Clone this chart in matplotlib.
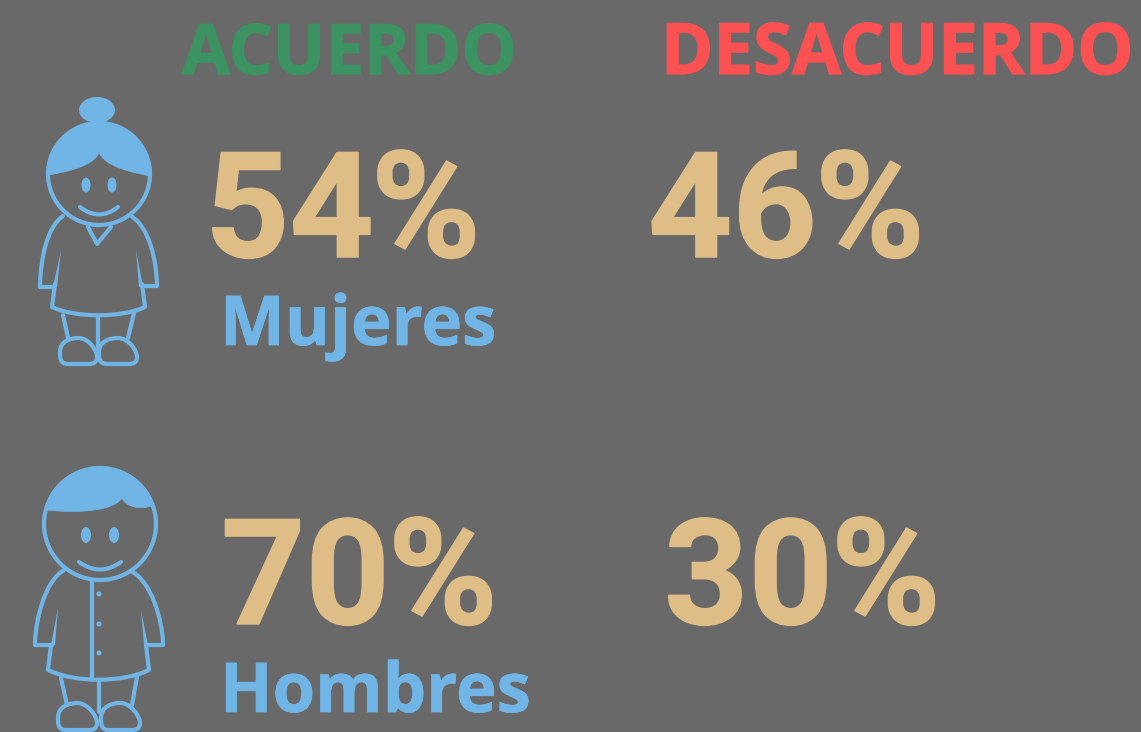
import matplotlib
matplotlib.use("Agg")
import matplotlib.pyplot as plt
from matplotlib.patches import Circle, Ellipse, Polygon, PathPatch
from matplotlib.path import Path
import matplotlib.patheffects as pe

# data
groups = ['Mujeres', 'Hombres']
acuerdo = [54, 70]
desacuerdo = [46, 30]
headers = ['ACUERDO', 'DESACUERDO']

BG = '#696969'
BLUE = '#70b5e5'
TAN = '#dfbd87'
GREEN = '#3c9260'
RED = '#fb5152'
FONT = ['Roboto', 'DejaVu Sans']
FONT2 = ['Open Sans', 'DejaVu Sans']

fig = plt.figure(figsize=(11.41, 7.32), dpi=100, facecolor=BG)
ax = fig.add_axes([0, 0, 1, 1])
ax.set_xlim(0, 1141)
ax.set_ylim(732, 0)
ax.axis('off')


def txt(x, y, s, size, color, stroke=0, weight='bold', family=FONT):
    t = ax.text(x, y, s, fontsize=size, color=color, fontweight=weight,
                ha='left', va='baseline', family=family)
    if stroke:
        t.set_path_effects([pe.withStroke(linewidth=stroke, foreground=color)])


def pct(x, x2, y, value):
    txt(x, y, str(value), 106, TAN, stroke=1)
    txt(x2, y, '%', 107, TAN, stroke=1)


txt(182, 74, headers[0], 50, GREEN, stroke=1, family=FONT2)
txt(661, 74, headers[1], 51, RED, stroke=1, family=FONT2)

pct(205, 371, 257, acuerdo[0])
pct(648, 815, 257, desacuerdo[0])
pct(221, 388, 624, acuerdo[1])
pct(664, 831, 624, desacuerdo[1])

txt(220, 345, groups[0], 49.5, BLUE, stroke=0.5, family=FONT2)
txt(220, 712, groups[1], 49.5, BLUE, stroke=0.5, family=FONT2)

lw = 3
M, L, C3, C4 = Path.MOVETO, Path.LINETO, Path.CURVE3, Path.CURVE4


def stroke(verts, codes):
    ax.add_patch(PathPatch(Path(verts, codes), fc='none', ec=BLUE, lw=lw,
                           capstyle='round', joinstyle='round'))


def fill(verts, codes):
    ax.add_patch(PathPatch(Path(verts, codes), fc=BLUE, ec=BLUE, lw=0.5))


def taper(tip, base):
    ax.add_patch(Polygon([tip, (base[0] - 2, base[1]), (base[0] + 2, base[1])],
                         closed=True, fc=BLUE, ec='none'))


def shoe(x0, x1, y0, y1):
    xm = (x0 + x1) / 2
    stroke([(x0 + 8, y1), (x0, y1), (x0, y1 - 6), (x0, y1 - 12),
            (x0, y0 + 3), (xm - 8, y0), (xm, y0),
            (xm + 10, y0), (x1, y1 - 14), (x1, y1 - 7),
            (x1, y1 - 2), (x1 - 3, y1), (x1 - 8, y1),
            (x0 + 8, y1)],
           [M, C4, C4, C4, C4, C4, C4, C4, C4, C4, C4, C4, C4, L])


def face(cx, cy, r, eye_dx, eye_dy, eye_w, eye_h, sm_dx, sm_y, sm_low):
    ax.add_patch(Circle((cx, cy), r, fc='none', ec=BLUE, lw=lw))
    ax.add_patch(Ellipse((cx - eye_dx, cy + eye_dy), eye_w, eye_h, fc=BLUE, ec='none'))
    ax.add_patch(Ellipse((cx + eye_dx, cy + eye_dy), eye_w, eye_h, fc=BLUE, ec='none'))
    stroke([(cx - sm_dx, sm_y), (cx, sm_low), (cx + sm_dx, sm_y)], [M, C3, C3])


# woman
face(99, 174, 51, 13, 11, 9, 15, 19, 207, 222)
fill([(48, 175), (80, 170), (96, 162), (99, 152), (102, 162), (118, 170), (150, 176),
      (150, 146), (125, 122), (99, 122), (73, 122), (48, 146), (48, 175)],
     [M, C4, C4, C4, C4, C4, C4, C4, C4, C4, C4, C4, C4])
ax.add_patch(Ellipse((97, 110), 36, 26, fc=BLUE, ec='none'))
# arms and dress
stroke([(63, 216), (46, 228), (41, 260), (40, 284), (40, 287), (53, 287)], [M, C4, C4, C4, L, L])
stroke([(131, 216), (150, 228), (156, 260), (157, 284), (157, 286), (142, 286)], [M, C4, C4, C4, L, L])
stroke([(55, 284), (52, 307), (75, 318), (122, 318), (145, 307), (142, 284)], [M, L, C4, C4, C4, L])
taper((61, 250), (55, 287))
taper((136, 250), (141, 287))
stroke([(88, 227), (97, 244), (111, 227)], [M, L, L])
# legs and shoes
stroke([(63, 315), (68, 338)], [M, L])
stroke([(134, 313), (128, 338)], [M, L])
stroke([(98, 317), (98, 347)], [M, L])
shoe(60, 97, 338, 364)
shoe(99, 137, 338, 364)

# man
face(100, 524, 56, 14, 11, 10, 16, 21, 562, 577)
fill([(47, 510), (80, 514), (115, 510), (122, 498), (126, 507), (140, 510), (151, 506),
      (145, 482), (122, 467), (100, 467), (75, 467), (50, 485), (47, 510)],
     [M, C4, C4, C4, C4, C4, C4, C4, C4, C4, C4, C4, C4])
stroke([(64, 570), (44, 582), (36, 620), (35, 642), (35, 645), (52, 645)], [M, C4, C4, C4, L, L])
stroke([(131, 571), (152, 582), (162, 620), (163, 642), (163, 645), (148, 645)], [M, C4, C4, C4, L, L])
stroke([(51, 645), (48, 670), (75, 683), (122, 683), (149, 670), (146, 645)], [M, L, C4, C4, C4, L])
taper((58, 608), (53, 645))
taper((141, 610), (146, 645))
stroke([(92, 582), (92, 679)], [M, L])
for by in [594, 624, 653]:
    ax.add_patch(Circle((99, by), 2.5, fc=BLUE, ec='none'))
stroke([(61, 678), (67, 705)], [M, L])
stroke([(137, 677), (132, 705)], [M, L])
stroke([(99, 682), (99, 712)], [M, L])
shoe(58, 97, 703, 730)
shoe(101, 140, 703, 730)

fig.savefig('out.png', dpi=100, facecolor=BG)
